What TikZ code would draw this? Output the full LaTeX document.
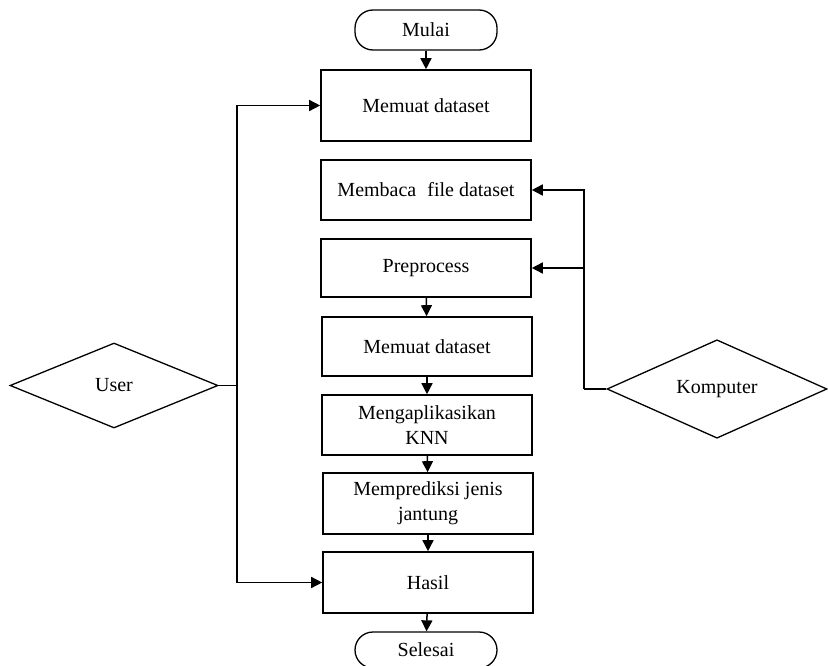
\documentclass[tikz,border=0pt]{standalone}
\usepackage{fontspec}
\setmainfont{Liberation Serif}
\usetikzlibrary{shapes.geometric,arrows.meta}
\begin{document}
\begin{tikzpicture}[x=1pt,y=-1pt,
  every node/.style={font=\fontsize{20}{25}\selectfont, align=center, inner sep=0pt},
  procbox/.style={draw, line width=1.6pt, rectangle, minimum width=210pt},
  termbox/.style={draw, line width=1.3pt, rectangle, rounded corners=18pt, minimum width=142pt},
  actor/.style={draw, line width=1.3pt, diamond, inner sep=0pt},
  conn/.style={line width=1.5pt},
  arr/.style={conn, -{Triangle[length=11pt,width=11pt]}}]
\useasboundingbox (0,0) rectangle (828,666);
\node[termbox, minimum height=40pt] (mulai) at (426,30) {Mulai};
\node[procbox, minimum height=71pt] (memuat1) at (426,105.5) {Memuat dataset};
\node[procbox, minimum height=60pt] (membaca) at (426,190) {Membaca\hspace{0.55em}file dataset};
\node[procbox, minimum height=58pt] (prep) at (426,268) {Preprocess};
\node[procbox, minimum height=59pt] (memuat2) at (427,346.5) {Memuat dataset};
\node[procbox, minimum height=60pt] (knn) at (427,425) {Mengaplikasikan\\KNN};
\node[procbox, minimum height=61pt] (pred) at (428,503.5) {Memprediksi jenis\\jantung};
\node[procbox, minimum height=61pt] (hasil) at (428,582.5) {Hasil};
\node[termbox, minimum height=36pt] (selesai) at (426,650) {Selesai};
\node[actor, minimum width=208pt, minimum height=85pt] (user) at (114,385.5) {User};
\node[actor, minimum width=220pt, minimum height=82pt] (komp) at (717,389) {Komputer};
\coordinate (ju) at (237,385.5);
\coordinate (jk) at (584,389);
\draw[arr] (mulai) -- (memuat1);
\draw[arr] (prep) -- (memuat2);
\draw[arr] (memuat2) -- (knn);
\draw[arr] (knn) -- (pred);
\draw[arr] (pred) -- (hasil);
\draw[arr] (hasil) -- (selesai);
\draw[conn] (user.east) -- (ju);
\draw[arr] (ju) |- (memuat1.west);
\draw[arr] (ju) |- (hasil.west);
\draw[conn] (komp.west) -- (jk);
\draw[arr] (jk) |- (membaca.east);
\draw[arr] (jk) |- (prep.east);
\end{tikzpicture}
\end{document}
